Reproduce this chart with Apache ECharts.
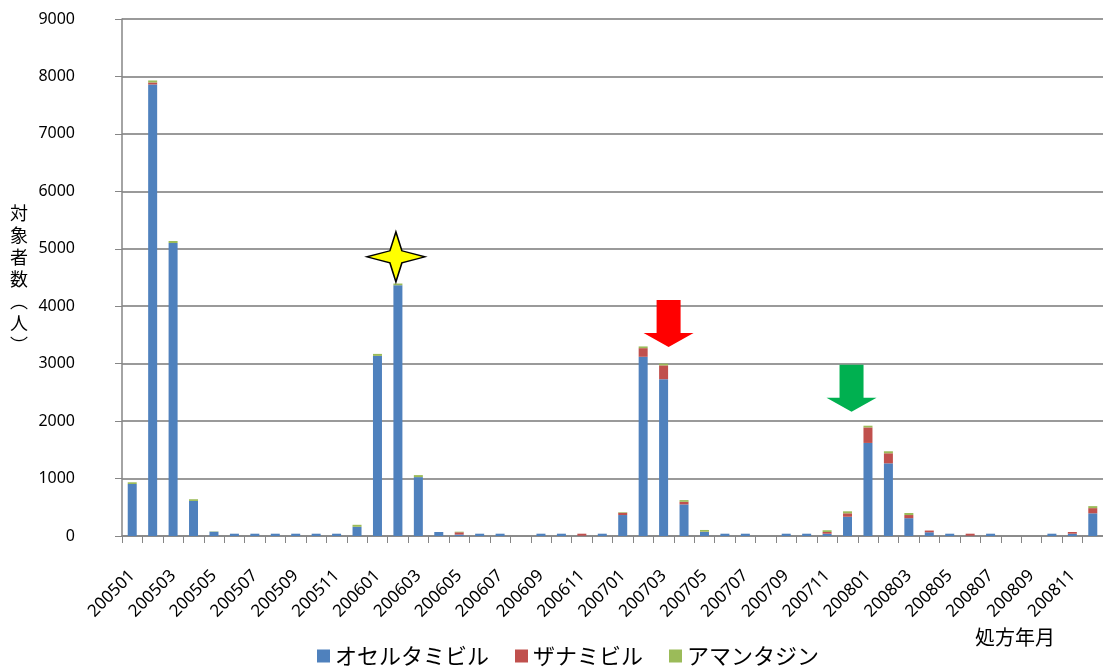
<!DOCTYPE html>
<html>
<head>
<meta charset="utf-8">
<script src="https://cdn.jsdelivr.net/npm/echarts@6/dist/echarts.min.js"></script>
<style>
  html, body { margin: 0; padding: 0; background: #fff; }
  #chart { width: 1103px; height: 670px; }
</style>
</head>
<body>
<div id="chart"></div>
<script>
// 処方年月 (YYYYMM), 2005-01 .. 2008-12
const months = [
  '200501','200502','200503','200504','200505','200506','200507','200508','200509','200510','200511','200512',
  '200601','200602','200603','200604','200605','200606','200607','200608','200609','200610','200611','200612',
  '200701','200702','200703','200704','200705','200706','200707','200708','200709','200710','200711','200712',
  '200801','200802','200803','200804','200805','200806','200807','200808','200809','200810','200811','200812'
];

// 対象者数 per drug
const oseltamivir = [
  905, 7860, 5100, 610, 75, 40, 40, 40, 40, 40, 40, 160,
  3135, 4365, 1025, 70, 25, 40, 40, 0, 40, 40, 5, 40,
  365, 3120, 2730, 550, 70, 40, 40, 0, 40, 40, 40, 335,
  1620, 1265, 310, 65, 40, 5, 40, 0, 0, 40, 40, 395
];
const zanamivir = [
  0, 35, 0, 0, 0, 0, 0, 0, 0, 0, 0, 0,
  0, 0, 0, 0, 40, 0, 0, 0, 0, 0, 35, 0,
  40, 150, 240, 45, 5, 0, 0, 0, 0, 0, 30, 60,
  270, 175, 55, 30, 0, 35, 0, 0, 0, 0, 30, 90
];
const amantadine = [
  30, 35, 35, 30, 5, 0, 0, 0, 0, 0, 0, 35,
  35, 30, 35, 0, 10, 0, 0, 0, 0, 0, 0, 0,
  10, 30, 30, 30, 30, 0, 0, 0, 0, 0, 30, 35,
  30, 35, 35, 0, 0, 0, 0, 0, 0, 0, 0, 35
];

const seriesNames = ['オセルタミビル', 'ザナミビル', 'アマンタジン'];
const yTicks = { min: 0, max: 9000, interval: 1000 };

const JP = '"Noto Sans CJK JP", "Noto Sans", sans-serif';
const NUM = '"Noto Sans", "DejaVu Sans", sans-serif';

const starPath = 'path://M29,0L35,19L58,25L35,31L29,50L23,31L0,25L23,19Z';
const arrowPath = 'path://M13,0L37,0L37,33L50,33L25,47L0,33L13,33Z';

const chart = echarts.init(document.getElementById('chart'), null, { renderer: 'canvas' });

function barSeries(name, data, color, extra) {
  return Object.assign({
    name: name,
    type: 'bar',
    stack: 'total',
    barWidth: 9,
    data: data,
    itemStyle: { color: color },
    emphasis: { disabled: true }
  }, extra || {});
}

chart.setOption({
  animation: false,
  backgroundColor: '#ffffff',
  grid: { left: 122, right: -5, top: 19, bottom: 134, containLabel: false },
  legend: {
    data: seriesNames,
    left: 312,
    top: 640,
    icon: 'rect',
    itemWidth: 13,
    itemHeight: 13,
    itemGap: 26,
    textStyle: { fontFamily: JP, fontSize: 22, color: '#000' }
  },
  xAxis: {
    type: 'category',
    data: months,
    boundaryGap: true,
    axisLine: { lineStyle: { color: '#868686', width: 1.5 } },
    axisTick: { show: true, interval: 0, length: 7, lineStyle: { color: '#868686' } },
    axisLabel: {
      interval: 1,
      rotate: 45,
      margin: 37,
      padding: [20, 0, 0, 0],
      fontFamily: NUM,
      fontSize: 17,
      color: '#000'
    },
    splitLine: { show: false }
  },
  yAxis: {
    type: 'value',
    min: yTicks.min,
    max: yTicks.max,
    interval: yTicks.interval,
    axisLine: { show: true, lineStyle: { color: '#868686', width: 1.5 } },
    axisTick: { show: true, length: 7, lineStyle: { color: '#868686' } },
    axisLabel: {
      margin: 47,
      fontFamily: NUM,
      fontSize: 16,
      color: '#000',
      formatter: function (v) { return String(v); }
    },
    splitLine: { lineStyle: { color: '#9a9a9a', width: 2 } }
  },
  series: [
    barSeries(seriesNames[0], oseltamivir, '#4F81BD'),
    barSeries(seriesNames[1], zanamivir, '#C0504D'),
    barSeries(seriesNames[2], amantadine, '#9BBB59', {
      markPoint: {
        silent: true,
        label: { show: false },
        data: [
          {
            coord: ['200602', 4860],
            symbol: starPath,
            symbolSize: [58, 50],
            symbolOffset: [-2, 0],
            itemStyle: { color: '#FFFF00', borderColor: '#000', borderWidth: 1.5 }
          },
          {
            coord: ['200703', 3700],
            symbol: arrowPath,
            symbolSize: [50, 47],
            symbolOffset: [5, 0],
            itemStyle: { color: '#FF0000' }
          },
          {
            coord: ['200712', 2570],
            symbol: arrowPath,
            symbolSize: [50, 47],
            symbolOffset: [4, 0],
            itemStyle: { color: '#00B050' }
          }
        ]
      }
    })
  ],
  graphic: [
    {
      type: 'text',
      left: 10,
      top: 202,
      style: {
        text: '対\n象\n者\n数\n︵\n人\n︶',
        font: '18px ' + JP,
        lineHeight: 22,
        fill: '#000'
      }
    },
    {
      type: 'text',
      left: 975,
      top: 627,
      style: {
        text: '処方年月',
        font: '20px ' + JP,
        fill: '#000'
      }
    }
  ]
});
</script>
</body>
</html>
